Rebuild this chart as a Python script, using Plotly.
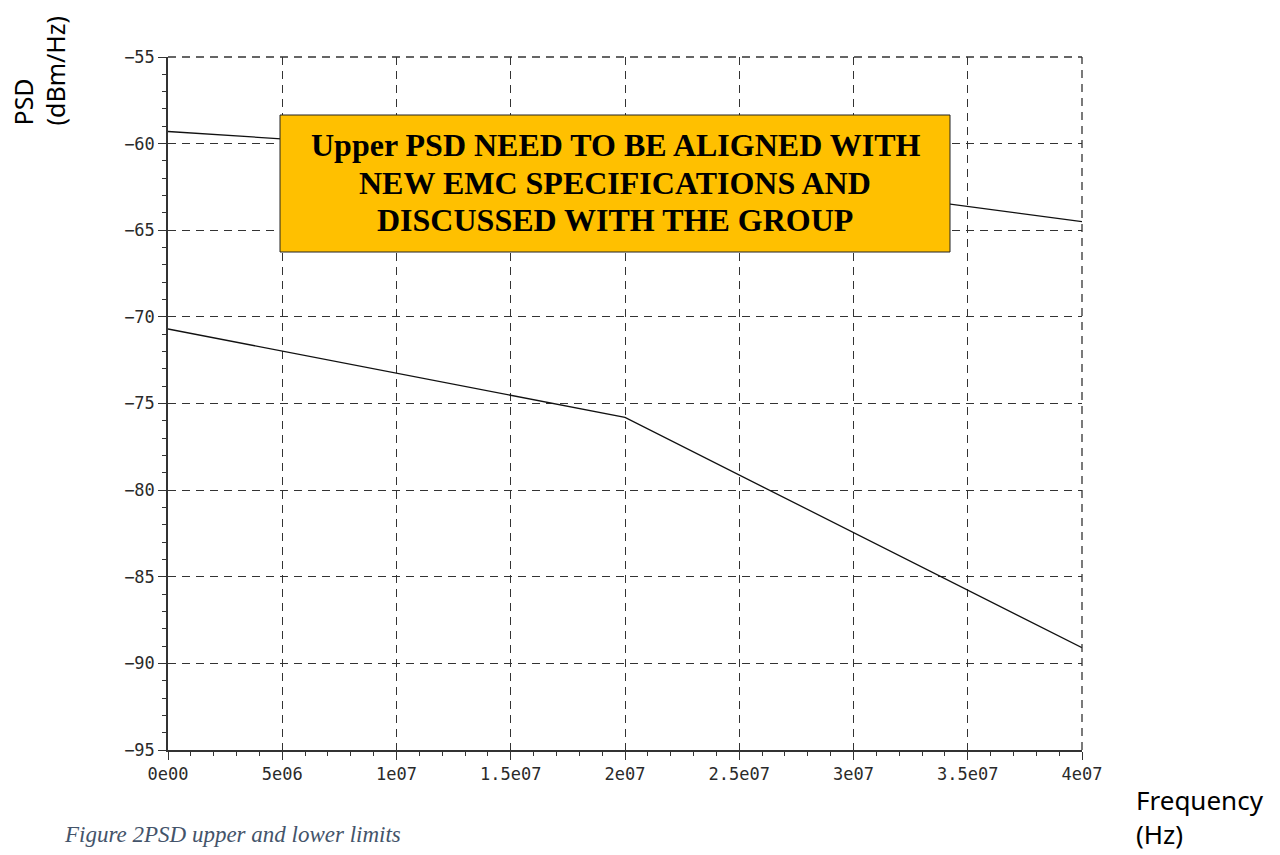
import plotly.graph_objects as go

freq = [0, 2e7, 4e7]
upper_psd = [-59.3, -61.0, -64.5]
lower_psd = [-70.7, -75.8, -89.1]

x_tickvals = [0, 5e6, 1e7, 1.5e7, 2e7, 2.5e7, 3e7, 3.5e7, 4e7]
x_ticktext = ["0e00", "5e06", "1e07", "1.5e07", "2e07", "2.5e07", "3e07", "3.5e07", "4e07"]
y_tickvals = [-55, -60, -65, -70, -75, -80, -85, -90, -95]

note_lines = ["Upper PSD NEED TO BE ALIGNED WITH",
              "NEW EMC SPECIFICATIONS AND",
              "DISCUSSED WITH THE GROUP"]

# page layout (pixels in the 1280x855 window); body margin offset
OFF = 8
PL, PR, PT, PB = 168, 1082, 57, 750
PW, PH = PR - PL, PB - PT


def px(X):
    return (X - PL) / PW


def py(Y):
    return 1 - (Y - PT) / PH


fig = go.Figure()
fig.add_trace(go.Scatter(x=freq, y=upper_psd, mode="lines",
                         line=dict(color="#111", width=1.3), showlegend=False))
fig.add_trace(go.Scatter(x=freq, y=lower_psd, mode="lines",
                         line=dict(color="#111", width=1.3), showlegend=False))

GRID_DASH = "8px,6px"
axis_common = dict(
    showgrid=True, gridcolor="#333", griddash=GRID_DASH, gridwidth=1.3,
    showline=True, linecolor="#333", linewidth=1.5,
    ticks="outside", ticklen=8, tickcolor="#333", tickwidth=1.3,
    tickfont=dict(family="DejaVu Sans Mono", size=17, color="#2a2a2a"),
    zeroline=False, mirror=False,
)

fig.update_xaxes(range=[0, 4e7], tickvals=x_tickvals, ticktext=x_ticktext,
                 minor=dict(dtick=1e6, ticks="outside", ticklen=4, tickcolor="#333", showgrid=False),
                 **axis_common)
fig.update_yaxes(range=[-95, -55], tickvals=y_tickvals,
                 minor=dict(dtick=1, ticks="outside", ticklen=4, tickcolor="#333", showgrid=False),
                 **axis_common)

fig.add_shape(type="line", xref="paper", yref="paper", x0=0, x1=1, y0=1, y1=1,
              line=dict(color="#333", width=1.3, dash=GRID_DASH))
fig.add_shape(type="line", xref="paper", yref="paper", x0=1, x1=1, y0=0, y1=1,
              line=dict(color="#333", width=1.3, dash=GRID_DASH))

# note box
fig.add_shape(type="rect", xref="paper", yref="paper",
              x0=px(280), x1=px(950), y0=py(252), y1=py(115),
              fillcolor="#FFC000", line=dict(color="#222", width=1), layer="above")
line_centers = [145, 182.5, 220]
for txt, yc in zip(note_lines, line_centers):
    fig.add_annotation(xref="paper", yref="paper", x=px(615), y=py(yc),
                       xanchor="center", yanchor="middle",
                       text="<b>" + txt + "</b>", showarrow=False,
                       font=dict(family="Liberation Serif", size=32, color="#000"))

fig.add_annotation(xref="paper", yref="paper", x=px(4), y=py(128),
                   xanchor="left", yanchor="bottom", textangle=-90,
                   text="PSD<br>(dBm/Hz)", showarrow=False, align="left",
                   font=dict(family="Noto Sans", size=25, color="#000"))

fig.add_annotation(xref="paper", yref="paper", x=px(1134), y=py(780),
                   xanchor="left", yanchor="top",
                   text="Frequency<br>(Hz)", showarrow=False, align="left",
                   font=dict(family="Noto Sans", size=26, color="#000"))

fig.add_annotation(xref="paper", yref="paper", x=px(62), y=py(820),
                   xanchor="left", yanchor="top",
                   text="<i>Figure 2PSD upper and lower limits</i>", showarrow=False,
                   font=dict(family="Liberation Serif", size=23, color="#44546A"))

fig.update_layout(width=1280, height=855, plot_bgcolor="white", paper_bgcolor="white",
                  margin=dict(l=PL - OFF, r=1280 + OFF - PR, t=PT - OFF, b=855 + OFF - PB),
                  showlegend=False)

fig.write_html("out.html")
